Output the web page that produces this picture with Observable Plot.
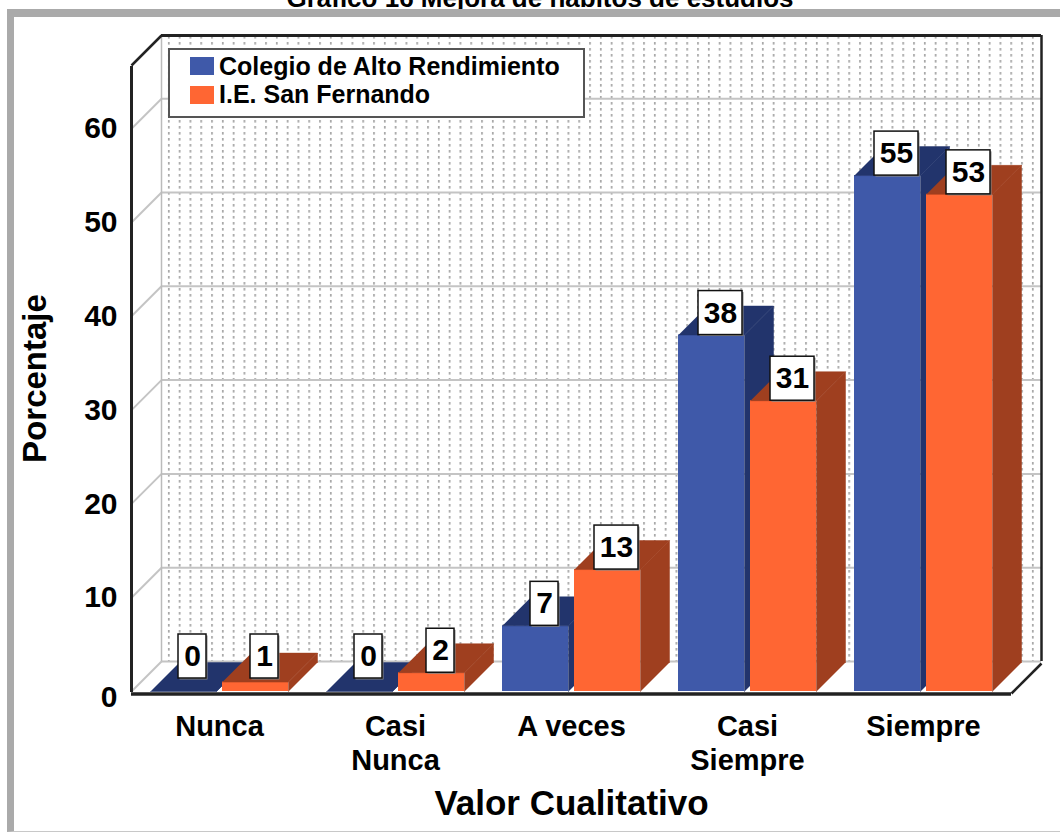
<!DOCTYPE html>
<html>
<head>
<meta charset="utf-8">
<script src="https://cdn.jsdelivr.net/npm/d3@7"></script>
<script src="https://cdn.jsdelivr.net/npm/@observablehq/plot@0.6"></script>
<style>
  body { margin: 0; background: #fff; font-family: "Liberation Sans", Arial, sans-serif; }
  #title { position: absolute; left: 0; top: 0; width: 1060px; height: 9px; overflow: hidden; }
  #title span { position: absolute; left: 0; width: 1080px; text-align: center; top: -15px;
    font-size: 26px; line-height: 26px; font-weight: bold; color: #000; }
  #frame { position: absolute; left: 7px; top: 9px; width: 1053px; height: 814px;
    border-top: 8px solid #aaaaaa; border-left: 7px solid #aaaaaa; border-bottom: 1px solid #c8c8c8; }
  #chart { position: absolute; left: 14px; top: 17px; }
  #legend { position: absolute; left: 168px; top: 48px; width: 413px; height: 66px;
    border: 2px solid #555; background: #fff; }
  .li { position: absolute; left: 20px; height: 24px; display: flex; align-items: center; }
  .sw { width: 24px; height: 18px; margin-right: 5px; }
  .lt { font-size: 25px; font-weight: bold; color: #000; white-space: nowrap; }
</style>
</head>
<body>
<div id="title"><span>Gráfico 16 Mejora de hábitos de estudios</span></div>
<div id="frame"></div>
<div id="chart"></div>
<div id="legend"></div>
<script>
// ---- data ----
const categories = ["Nunca", "Casi Nunca", "A veces", "Casi Siempre", "Siempre"];
const categoryLabels = ["Nunca", "Casi\nNunca", "A veces", "Casi\nSiempre", "Siempre"];
const seriesNames = ["Colegio de Alto Rendimiento", "I.E. San Fernando"];
const colegio = [0, 0, 7, 38, 55];
const sanFernando = [1, 2, 13, 31, 53];
const yTicks = [0, 10, 20, 30, 40, 50, 60];
const frontColors = ["#3f59a9", "#ff6633"];
const darkColors = ["#22346c", "#9f3f1f"];

// ---- layout ----
const W = 1046, H = 814, mL = 117, mR = 49, mT = 48, mB = 140;
const pxPerX = (W - mL - mR) / categories.length;   // px per category unit
const pxPerY = 9.38;                                  // px per percent
const yMax = (H - mT - mB) / pxPerY;
const ux = px => px / pxPerX, uy = px => px / pxPerY;
const wallDX = ux(30), wallDY = uy(30);
const barDX = ux(29), barDY = uy(29);

const values = [colegio, sanFernando];
const bars = [];
values.forEach((vals, s) => vals.forEach((v, i) => {
  const x0 = i + ux(19 + s * 72), x1 = x0 + ux(66);
  bars.push({s, i, v, x0, x1});
}));
const fronts = s => bars.filter(b => b.s === s);
const tops = s => fronts(s).flatMap((b, k) => [
  {id: k, x: b.x0, y: b.v}, {id: k, x: b.x1, y: b.v},
  {id: k, x: b.x1 + barDX, y: b.v + barDY}, {id: k, x: b.x0 + barDX, y: b.v + barDY}]);
const sides = s => fronts(s).flatMap((b, k) => [
  {id: k, x: b.x1, y: 0}, {id: k, x: b.x1, y: b.v},
  {id: k, x: b.x1 + barDX, y: b.v + barDY}, {id: k, x: b.x1 + barDX, y: barDY}]);

const labels = bars.map(b => {
  const cx = b.x0 + ux(33 + 9);
  const cy = Math.max(b.v + uy(22), uy(35));
  const hw = ux(String(b.v).length > 1 ? 22 : 14);
  return {text: String(b.v), cx, cy, x1: cx - hw, x2: cx + hw, y1: cy - uy(22), y2: cy + uy(22)};
});

const barMarks = [0, 1].flatMap(s => [
  Plot.rect(fronts(s), {x1: "x0", x2: "x1", y1: 0, y2: "v", fill: frontColors[s]}),
  Plot.line(tops(s), {x: "x", y: "y", z: "id", fill: darkColors[s], stroke: darkColors[s], strokeWidth: 0.5}),
  Plot.line(sides(s), {x: "x", y: "y", z: "id", fill: darkColors[s], stroke: darkColors[s], strokeWidth: 0.5})
]);

const n = categories.length;
const svg = Plot.plot({
  width: W, height: H,
  marginLeft: mL, marginRight: mR, marginTop: mT, marginBottom: mB,
  x: {type: "linear", domain: [0, n], axis: null},
  y: {type: "linear", domain: [0, yMax], axis: null},
  style: {fontFamily: "'Liberation Sans', Arial, sans-serif", fontWeight: "bold", color: "#000", background: "#fff"},
  marks: [
    // back wall with dotted texture
    Plot.rect([0], {x1: wallDX, x2: n + wallDX, y1: wallDY, y2: yMax + wallDY, fill: "url(#dots)"}),
    // grid lines on back wall and left wall
    Plot.ruleY(yTicks, {y: d => d + wallDY, x1: wallDX, x2: n + wallDX, stroke: "#c4c4c4", strokeWidth: 2}),
    Plot.link(yTicks, {x1: 0, y1: d => d, x2: wallDX, y2: d => d + wallDY, stroke: "#c4c4c4", strokeWidth: 2}),
    Plot.ruleX([wallDX], {y1: wallDY, y2: yMax + wallDY, stroke: "#bbb", strokeWidth: 1.5}),
    // frame lines
    Plot.ruleY([yMax + wallDY], {x1: wallDX, x2: n + wallDX, stroke: "#222", strokeWidth: 3}),
    Plot.ruleX([n + wallDX], {y1: wallDY, y2: yMax + wallDY, stroke: "#222", strokeWidth: 2.5}),
    Plot.link([0], {x1: 0, y1: yMax, x2: wallDX, y2: yMax + wallDY, stroke: "#222", strokeWidth: 2.5}),
    Plot.link([0], {x1: n, y1: 0, x2: n + wallDX, y2: wallDY, stroke: "#222", strokeWidth: 2.5, dy: 2}),
    // bars
    ...barMarks,
    // front axis & floor edge
    Plot.ruleX([0], {y1: 0, y2: yMax, stroke: "#222", strokeWidth: 3, dy: 1}),
    Plot.ruleY([0], {x1: 0, x2: n, stroke: "#222", strokeWidth: 3.5, dy: 2.5}),
    // value labels
    Plot.rect(labels, {x1: "x1", x2: "x2", y1: "y1", y2: "y2", fill: "#888", dx: 1.5, dy: 1.5}),
    Plot.rect(labels, {x1: "x1", x2: "x2", y1: "y1", y2: "y2", fill: "#fff", stroke: "#111", strokeWidth: 1.5}),
    Plot.text(labels, {x: "cx", y: "cy", text: "text", fontSize: 30, fill: "#000"}),
    // y tick labels
    Plot.text(yTicks.filter(d => d > 0), {y: d => d, frameAnchor: "left", dx: -14, textAnchor: "end", text: d => String(d), fontSize: 30}),
    Plot.text(yTicks.filter(d => d === 0), {y: d => d, frameAnchor: "left", dx: -14, dy: 6, textAnchor: "end", text: d => String(d), fontSize: 30}),
    // category labels
    Plot.text(categoryLabels, {x: (d, i) => i + 0.5, y: 0, text: d => d, lineAnchor: "top", dy: 21, lineHeight: 1.15, fontSize: 29}),
    // axis titles
    Plot.text(["Valor Cualitativo"], {frameAnchor: "bottom", dy: 123, text: d => d, fontSize: 35}),
    Plot.text(["Porcentaje"], {frameAnchor: "left", dx: -96, rotate: -90, textAnchor: "middle", text: d => d, fontSize: 33})
  ]
});

// dotted pattern for the back wall
const sel = d3.select(svg);
const defs = sel.insert("defs", ":first-child");
const pat = defs.append("pattern").attr("id", "dots").attr("patternUnits", "userSpaceOnUse")
  .attr("x", 150).attr("y", 0).attr("width", 10.8).attr("height", 6);
pat.append("rect").attr("width", 10.8).attr("height", 6).attr("fill", "#fff");
pat.append("rect").attr("x", 4).attr("y", 1).attr("width", 1.6).attr("height", 2.6).attr("fill", "#a0a0a0");

document.getElementById("chart").appendChild(svg);

// legend
const legend = document.getElementById("legend");
seriesNames.forEach((name, s) => {
  const row = document.createElement("div");
  row.className = "li";
  row.style.top = (4 + s * 28.5) + "px";
  const sw = document.createElement("div");
  sw.className = "sw";
  sw.style.background = frontColors[s];
  const t = document.createElement("span");
  t.className = "lt";
  t.textContent = name;
  row.appendChild(sw); row.appendChild(t);
  legend.appendChild(row);
});
</script>
</body>
</html>
